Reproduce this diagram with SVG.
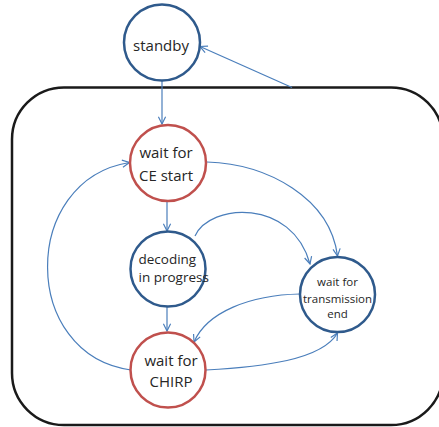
<svg xmlns="http://www.w3.org/2000/svg" width="439" height="427" viewBox="0 0 439 427">
  <defs>
    <marker id="arrow" viewBox="0 0 10 10" refX="9" refY="5" markerWidth="9" markerHeight="9" markerUnits="userSpaceOnUse" orient="auto">
      <path d="M1,1 L9,5 L1,9" fill="none" stroke="#4a7ebb" stroke-width="1.3"/>
    </marker>
  </defs>
  <style>
    .frame { fill: none; stroke: #1a1a1a; stroke-width: 2.5; }
    .blue { fill: #ffffff; stroke: #2f5a8c; stroke-width: 2.5; }
    .red { fill: #ffffff; stroke: #c0504d; stroke-width: 2.5; }
    .edge { fill: none; stroke: #4a7ebb; stroke-width: 1.2; marker-end: url(#arrow); }
    text { font-family: "Open Sans", "Liberation Sans", sans-serif; fill: #262626; }
    .big { font-size: 15px; text-anchor: middle; }
    .mid { font-size: 13.5px; }
    .small { font-size: 11.5px; text-anchor: middle; }
  </style>

  <!-- enclosing frame; its right side runs past the canvas edge -->
  <rect class="frame" x="12" y="87.5" width="431" height="337.5" rx="52" ry="52"/>

  <g id="connectors">
    <path class="edge" d="M162,81 L162,124"/>
    <path class="edge" d="M292,87.5 L200,46.5"/>
    <path class="edge" d="M167,201 L167,231"/>
    <path class="edge" d="M167,307 L167,331"/>
    <path class="edge" d="M207,162 C268,164 330,198 337.5,256"/>
    <path class="edge" d="M195,236 C210,203 292,198 310,264"/>
    <path class="edge" d="M300,294 C250,295 207,312 194,342"/>
    <path class="edge" d="M206,370 C262,367 322,360 337.5,333"/>
    <path class="edge" d="M131,370 C20,355 20,180 129.5,162.5"/>
  </g>

  <g id="standby">
    <circle class="blue" cx="162" cy="42.5" r="38"/>
    <text class="big" x="161" y="51">standby</text>
  </g>

  <g id="wait-ce-start">
    <circle class="red" cx="168" cy="163" r="38"/>
    <text class="big" x="166" y="158">wait for</text>
    <text class="big" x="166" y="181">CE start</text>
  </g>

  <g id="decoding">
    <circle class="blue" cx="168" cy="269" r="37.5"/>
    <text class="mid" x="138.5" y="264">decoding</text>
    <text class="mid" x="138.5" y="282">in progress</text>
  </g>

  <g id="wait-chirp">
    <circle class="red" cx="168" cy="370" r="37.5"/>
    <text class="big" x="171" y="366">wait for</text>
    <text class="big" x="171" y="387">CHIRP</text>
  </g>

  <g id="wait-tx-end">
    <circle class="blue" cx="337.5" cy="294.5" r="37.5"/>
    <text class="small" x="337.5" y="286">wait for</text>
    <text class="small" x="337.5" y="302.5">transmission</text>
    <text class="small" x="337.5" y="318">end</text>
  </g>
</svg>
